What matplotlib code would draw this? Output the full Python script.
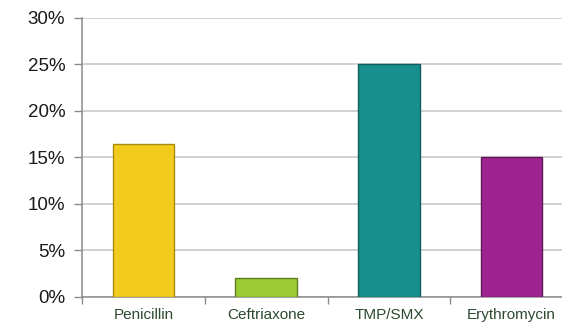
import matplotlib.pyplot as plt
import numpy as np

drugs = ['Penicillin', 'Ceftriaxone', 'TMP/SMX', 'Erythromycin']
resistance = [16.4, 2, 25, 15]
colors = ['#F2CB1D', '#9ACB34', '#178F8C', '#9E2490']
edges = ['#A88C12', '#5E7D1E', '#0E5E5B', '#651759']
yticks = [0, 5, 10, 15, 20, 25, 30]

plt.rcParams['font.family'] = ['Liberation Sans', 'DejaVu Sans']

fig = plt.figure(figsize=(5.62, 3.26), dpi=100)
ax = fig.add_axes([0.1459, 0.089, 0.8737, 0.8558])

x = np.arange(len(drugs))
ax.bar(x, resistance, width=0.5, color=colors, edgecolor=edges, linewidth=1, zorder=3)

ax.set_xlim(-0.5, len(drugs) - 0.5)
ax.set_ylim(0, 30)
ax.set_yticks(yticks)
ax.set_yticklabels([f'{v}%' for v in yticks], fontsize=13.5, color='#1a1a1a')
ax.yaxis.grid(True, color='#c4c4cc', linewidth=1.1, zorder=0)
ax.tick_params(axis='y', length=6, width=1, color='#8a8a8a', pad=6)

ax.set_xticks(x)
ax.set_xticklabels(drugs, fontsize=11, color='#2b4a2e')
ax.set_xticks(np.arange(len(drugs) + 1) - 0.5, minor=True)
ax.tick_params(axis='x', which='major', length=0, pad=8)
ax.tick_params(axis='x', which='minor', length=5, width=1, color='#8a8a8a')

for side in ['top', 'right']:
    ax.spines[side].set_visible(False)
for side in ['left', 'bottom']:
    ax.spines[side].set_color('#8a8a8a')
    ax.spines[side].set_linewidth(1.1)

fig.savefig('out.png', dpi=100, facecolor='white')
